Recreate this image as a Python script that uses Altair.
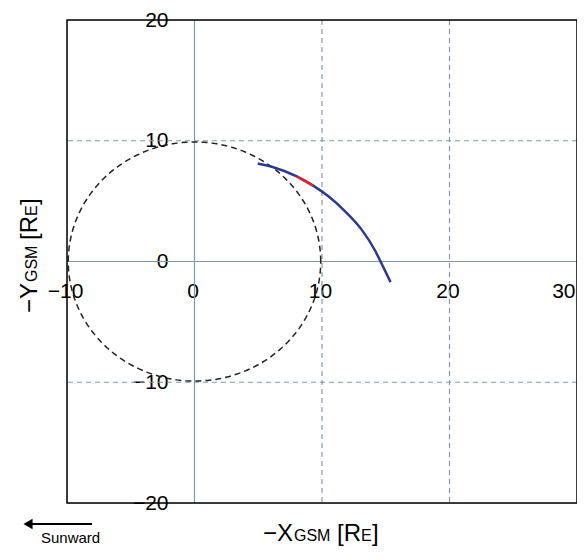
import altair as alt
import numpy as np
import pandas as pd

# ---------------- data ----------------
x_ticks = [-10, 0, 10, 20, 30]
y_ticks = [-20, -10, 0, 10, 20]
grid_x_solid = [0]
grid_x_dashed = [10, 20]
grid_y_solid = [0]
grid_y_dashed = [-10, 10]

# spacecraft trajectory (-X_GSM, -Y_GSM) in Re
traj_x = [4.96, 6.06, 8.02, 9.30, 10.50, 11.81, 13.11, 14.16, 14.68, 15.38]
traj_y = [8.12, 7.85, 7.04, 6.28, 5.40, 4.16, 2.64, 0.91, -0.19, -1.71]
# highlighted (red) part of the trajectory
red_x = [8.02, 8.60, 9.30]
red_y = [7.04, 6.70, 6.28]

# reference circle (radius in Re)
circle_radius = 9.9
circle_steps = 181

# ---------------- style ----------------
W, H = 510, 483
FONT = "Liberation Sans"
GRID = "#8597ab"

xscale = alt.Scale(domain=[-10, 30], nice=False, zero=False)
yscale = alt.Scale(domain=[-20, 20], nice=False, zero=False)
xaxis = alt.Axis(values=x_ticks, title=None, grid=False, domain=False, ticks=False,
                 offset=-242, labelPadding=19, labelFontSize=21, labelFlush=False,
                 labelOffset=-2,
                 labelAlign=alt.condition("datum.value == 30", alt.value("right"),
                                          alt.value("center")),
                 labelColor="black", labelFont=FONT, format="d")
yaxis = alt.Axis(values=y_ticks, title=None, grid=False, domain=False, ticks=False,
                 offset=-129, labelPadding=28, labelFontSize=21, labelFlush=False,
                 labelColor="black", labelFont=FONT, format="d")


def X(f):
    return alt.X(f, type="quantitative", scale=xscale, axis=xaxis)


def Y(f):
    return alt.Y(f, type="quantitative", scale=yscale, axis=yaxis)


one = pd.DataFrame({"a": [0]})

# grid lines
gx_solid = alt.Chart(pd.DataFrame({"x": grid_x_solid})).mark_rule(
    color=GRID, strokeWidth=1.2).encode(x=X("x"))
gx_dash = alt.Chart(pd.DataFrame({"x": grid_x_dashed})).mark_rule(
    color=GRID, strokeWidth=1.2, strokeDash=[5, 4]).encode(x=X("x"))
gy_solid = alt.Chart(pd.DataFrame({"y": grid_y_solid})).mark_rule(
    color=GRID, strokeWidth=1.2).encode(y=Y("y"))
gy_dash = alt.Chart(pd.DataFrame({"y": grid_y_dashed})).mark_rule(
    color=GRID, strokeWidth=1.2, strokeDash=[5, 4]).encode(y=Y("y"))

# circle
th = np.linspace(0, 2 * np.pi, circle_steps)
circ_df = pd.DataFrame({"i": np.arange(circle_steps),
                        "x": circle_radius * np.cos(th),
                        "y": circle_radius * np.sin(th)})
circle = alt.Chart(circ_df).mark_line(color="#222222", strokeWidth=1.5,
                                      strokeDash=[6, 4]).encode(
    x=X("x"), y=Y("y"), order="i:Q")

# trajectory
traj_df = pd.DataFrame({"i": range(len(traj_x)), "x": traj_x, "y": traj_y})
traj = alt.Chart(traj_df).mark_line(color="#2b3990", strokeWidth=2.5,
                                    interpolate="monotone").encode(
    x=X("x"), y=Y("y"), order="i:Q")
red_df = pd.DataFrame({"i": range(len(red_x)), "x": red_x, "y": red_y})
red = alt.Chart(red_df).mark_line(color="#e8202a", strokeWidth=2.5,
                                  interpolate="monotone").encode(
    x=X("x"), y=Y("y"), order="i:Q")

# border
border = alt.Chart(one).mark_rect(fill=None, stroke="black", strokeWidth=1.5).encode(
    x=alt.value(0), x2=alt.value(W), y=alt.value(0), y2=alt.value(H))

# axis titles built of fragments (big / small subscript)
BIG, SMALL = 24, 16
x_frags = [("\u2212X", BIG, 196), ("GSM", SMALL, 227), ("[R", BIG, 270),
           ("E", SMALL, 294), ("]", BIG, 305)]
x_base = 521
y_frags = [("\u2212Y", BIG, 293), ("GSM", SMALL, 262), ("[R", BIG, 220),
           ("E", SMALL, 196), ("]", BIG, 185)]
y_base = -30

texts = []
for t, fs, px in x_frags:
    texts.append(alt.Chart(one).mark_text(text=t, fontSize=fs, font=FONT, align="left",
                                          baseline="alphabetic", color="black").encode(
        x=alt.value(px), y=alt.value(x_base)))
for t, fs, py in y_frags:
    texts.append(alt.Chart(one).mark_text(text=t, fontSize=fs, font=FONT, align="left",
                                          baseline="alphabetic", angle=270,
                                          color="black").encode(
        x=alt.value(y_base), y=alt.value(py)))

# Sunward arrow
arrow_line = alt.Chart(one).mark_rule(color="black", strokeWidth=2).encode(
    x=alt.value(-38), x2=alt.value(25), y=alt.value(504))
arrow_head = alt.Chart(one).mark_point(shape="triangle-left", filled=True, size=110,
                                       color="black", opacity=1).encode(
    x=alt.value(-39), y=alt.value(504))
sunward = alt.Chart(one).mark_text(text="Sunward", fontSize=15, font=FONT, align="left",
                                   baseline="alphabetic", color="black").encode(
    x=alt.value(-26), y=alt.value(523))

chart = alt.layer(gx_solid, gx_dash, gy_solid, gy_dash, circle, traj, red, border,
                  *texts, arrow_line, arrow_head, sunward).properties(
    width=W, height=H,
    autosize=alt.AutoSizeParams(type="none"),
    padding={"left": 59, "top": 12, "right": 0, "bottom": 44},
).configure_view(stroke=None).configure(background="white")

chart.save("out.html", embed_options={"renderer": "svg", "actions": False})
